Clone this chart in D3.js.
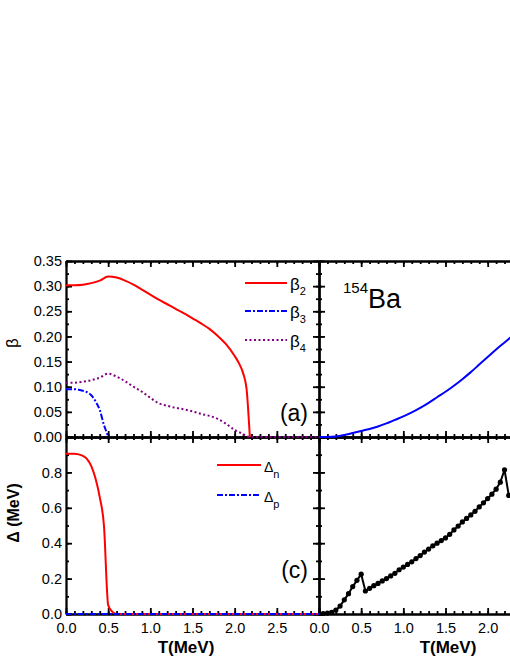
<!DOCTYPE html>
<html>
<head>
<meta charset="utf-8">
<script src="https://cdn.jsdelivr.net/npm/d3@7"></script>
<style>
body { margin: 0; background: #fff; }
text { font-family: Arial, "Liberation Sans", sans-serif; fill: #000; }
.axis path, .axis line { stroke: #000; stroke-width: 1.8; }
</style>
</head>
<body>
<svg id="chart" width="510" height="660"></svg>
<script>
// ---- data ----
var tBeta2 = [0, 0.1, 0.2, 0.3, 0.4, 0.5, 0.6, 0.7, 0.8, 0.9, 1.0, 1.1, 1.2, 1.3, 1.4, 1.5, 1.6, 1.7, 1.8, 1.9, 2.0, 2.05, 2.1, 2.14, 2.18];
var beta2  = [0.302, 0.302, 0.303, 0.306, 0.311, 0.319, 0.317, 0.311, 0.303, 0.293, 0.283, 0.273, 0.264, 0.255, 0.246, 0.236, 0.226, 0.215, 0.201, 0.184, 0.161, 0.147, 0.127, 0.097, 0.0];

var tBeta3 = [0, 0.1, 0.15, 0.2, 0.25, 0.3, 0.35, 0.4, 0.45, 0.48, 0.5];
var beta3  = [0.095, 0.095, 0.094, 0.092, 0.089, 0.083, 0.071, 0.054, 0.024, 0.01, 0.0];

var tBeta4 = [0, 0.1, 0.2, 0.3, 0.4, 0.5, 0.6, 0.7, 0.8, 0.9, 1.0, 1.1, 1.2, 1.3, 1.4, 1.5, 1.6, 1.7, 1.8, 1.9, 2.0, 2.1, 2.18, 3.0];
var beta4  = [0.108, 0.108, 0.110, 0.113, 0.118, 0.126, 0.120, 0.111, 0.100, 0.090, 0.078, 0.067, 0.062, 0.058, 0.055, 0.051, 0.046, 0.042, 0.036, 0.026, 0.014, 0.006, 0.0, 0.0];

var tDeltaN = [0, 0.1, 0.15, 0.2, 0.25, 0.3, 0.35, 0.4, 0.45, 0.5, 0.55, 0.6, 3.0];
var deltaN  = [0.905, 0.905, 0.902, 0.893, 0.875, 0.835, 0.765, 0.66, 0.50, 0.05, 0.012, 0.0, 0.0];

var tDeltaP = [0, 3.0];
var deltaP  = [0, 0];

// right panels
var tRightTop = [0, 0.1, 0.2, 0.3, 0.4, 0.5, 0.6, 0.7, 0.8, 0.9, 1.0, 1.1, 1.2, 1.3, 1.4, 1.5, 1.6, 1.7, 1.8, 1.9, 2.0, 2.1, 2.2, 2.3];
var rightTop  = [0, 0, 0.001, 0.004, 0.008, 0.012, 0.016, 0.021, 0.027, 0.034, 0.041, 0.049, 0.058, 0.068, 0.079, 0.090, 0.102, 0.115, 0.129, 0.144, 0.159, 0.174, 0.188, 0.202];

var tRightBot = [0, 0.05, 0.1, 0.15, 0.2, 0.25, 0.3, 0.35, 0.4, 0.45, 0.5, 0.55, 0.6, 0.65, 0.7, 0.75, 0.8, 0.85, 0.9, 0.95, 1.0, 1.05, 1.1, 1.15, 1.2, 1.25, 1.3, 1.35, 1.4, 1.45, 1.5, 1.55, 1.6, 1.65, 1.7, 1.75, 1.8, 1.85, 1.9, 1.95, 2.0, 2.05, 2.1, 2.15, 2.2, 2.25];
var rightBot  = [0, 0.002, 0.005, 0.01, 0.022, 0.045, 0.08, 0.115, 0.155, 0.19, 0.225, 0.13, 0.145, 0.16, 0.173, 0.187, 0.20, 0.215, 0.23, 0.25, 0.265, 0.28, 0.295, 0.313, 0.33, 0.35, 0.367, 0.385, 0.40, 0.415, 0.43, 0.45, 0.475, 0.497, 0.52, 0.54, 0.56, 0.58, 0.605, 0.628, 0.652, 0.677, 0.705, 0.745, 0.815, 0.67];

// ticks
var xMajor = [0, 0.5, 1.0, 1.5, 2.0, 2.5, 3.0];
var yTopMajor = [0, 0.05, 0.10, 0.15, 0.20, 0.25, 0.30, 0.35];
var yBotMajor = [0, 0.2, 0.4, 0.6, 0.8, 1.0];

var svg = d3.select("#chart");

var xL = d3.scaleLinear().domain([0, 3]).range([66, 319]),
    xR = d3.scaleLinear().domain([0, 3]).range([319, 572]),
    yTop = d3.scaleLinear().domain([0, 0.35]).range([437, 261]),
    yBot = d3.scaleLinear().domain([0, 1]).range([614, 437]);

function zip(t, v) {
    return t.map(function(d, i) { return { t: d, v: v[i] }; });
}

// frame with inward ticks on all four sides
function frame(x, y, yMajor, yMinorStep, xFmt, yFmt) {
    var x0 = x.range()[0], x1 = x.range()[1], yb = y.range()[0], yt = y.range()[1];
    var xMinor = d3.range(0, 3.001, 0.1);
    var yMinor = d3.range(0, y.domain()[1] + 1e-6, yMinorStep);

    var g = svg.append("g").attr("class", "axis");
    // bottom
    g.append("g").attr("transform", "translate(0," + yb + ")")
        .call(d3.axisBottom(x).tickValues(xMinor).tickSizeInner(-3).tickSizeOuter(0).tickFormat(""));
    g.append("g").attr("transform", "translate(0," + yb + ")")
        .call(d3.axisBottom(x).tickValues(xMajor).tickSizeInner(-6).tickSizeOuter(0).tickPadding(9)
            .tickFormat(xFmt || function() { return ""; }));
    // top
    g.append("g").attr("transform", "translate(0," + yt + ")")
        .call(d3.axisTop(x).tickValues(xMinor).tickSizeInner(-3).tickSizeOuter(0).tickFormat(""));
    g.append("g").attr("transform", "translate(0," + yt + ")")
        .call(d3.axisTop(x).tickValues(xMajor).tickSizeInner(-6).tickSizeOuter(0).tickFormat(""));
    // left
    g.append("g").attr("transform", "translate(" + x0 + ",0)")
        .call(d3.axisLeft(y).tickValues(yMinor).tickSizeInner(-3).tickSizeOuter(0).tickFormat(""));
    g.append("g").attr("transform", "translate(" + x0 + ",0)")
        .call(d3.axisLeft(y).tickValues(yMajor).tickSizeInner(-6).tickSizeOuter(0).tickPadding(4)
            .tickFormat(yFmt || function() { return ""; }));
    // right
    g.append("g").attr("transform", "translate(" + x1 + ",0)")
        .call(d3.axisRight(y).tickValues(yMinor).tickSizeInner(-3).tickSizeOuter(0).tickFormat(""));
    g.append("g").attr("transform", "translate(" + x1 + ",0)")
        .call(d3.axisRight(y).tickValues(yMajor).tickSizeInner(-6).tickSizeOuter(0).tickFormat(""));

    g.selectAll("text").attr("font-size", 14.5).attr("font-family", "Arial, 'Liberation Sans', sans-serif");
}

// axes / frames first, curves drawn over them
frame(xL, yTop, yTopMajor, 0.025, null, function(d) { return d3.format(".2f")(d); });
frame(xL, yBot, yBotMajor, 0.1, function(d) { return d === 3 ? "" : d3.format(".1f")(d); },
    function(d) { return d === 1 ? "" : d3.format(".1f")(d); });
frame(xR, yTop, yTopMajor, 0.025, null, null);
frame(xR, yBot, yBotMajor, 0.1, function(d) { return d > 2 ? "" : d3.format(".1f")(d); }, null);

var clipId = 0;
function panel(x, y) {
    clipId++;
    var id = "clip" + clipId;
    svg.append("clipPath").attr("id", id)
        .append("rect")
        .attr("x", x.range()[0]).attr("y", y.range()[1] - 2)
        .attr("width", x.range()[1] - x.range()[0])
        .attr("height", y.range()[0] - y.range()[1] + 4);
    return svg.append("g").attr("clip-path", "url(#" + id + ")");
}

function drawLine(g, x, y, t, v, color, dash, curve) {
    var line = d3.line()
        .x(function(d) { return x(d.t); })
        .y(function(d) { return y(d.v); })
        .curve(curve || d3.curveMonotoneX);
    g.append("path")
        .datum(zip(t, v))
        .attr("fill", "none")
        .attr("stroke", color)
        .attr("stroke-width", 2)
        .attr("stroke-dasharray", dash || null)
        .attr("d", line);
}

// ---- top left: beta ----
var gTL = panel(xL, yTop);
drawLine(gTL, xL, yTop, tBeta4, beta4, "#800080", "2,2.5");
drawLine(gTL, xL, yTop, tBeta3, beta3, "#0000ff", "6,2,2,2");
drawLine(gTL, xL, yTop, tBeta2, beta2, "#ff0000");

// ---- bottom left: gaps ----
var gBL = panel(xL, yBot);
drawLine(gBL, xL, yBot, tDeltaN, deltaN, "#ff0000");
drawLine(gBL, xL, yBot, tDeltaP, deltaP, "#0000ff", "6,2,2,2");

// ---- top right ----
var gTR = panel(xR, yTop);
drawLine(gTR, xR, yTop, tRightTop, rightTop, "#0000ff");

// ---- bottom right ----
var gBR = panel(xR, yBot);
drawLine(gBR, xR, yBot, tRightBot, rightBot, "#000", null, d3.curveLinear);
gBR.selectAll("circle")
    .data(zip(tRightBot, rightBot))
    .enter().append("circle")
    .attr("cx", function(d) { return xR(d.t); })
    .attr("cy", function(d) { return yBot(d.v); })
    .attr("r", 2.6)
    .attr("fill", "#000");

// axis titles
svg.append("text")
    .attr("transform", "translate(18,343) rotate(-90)")
    .attr("text-anchor", "middle")
    .attr("font-size", 17)
    .text("β");

svg.append("text")
    .attr("transform", "translate(19,513) rotate(-90)")
    .attr("text-anchor", "middle")
    .attr("font-size", 16)
    .attr("font-weight", "bold")
    .text("Δ (MeV)");

svg.append("text")
    .attr("x", 186).attr("y", 653)
    .attr("text-anchor", "middle")
    .attr("font-size", 17)
    .attr("font-weight", "bold")
    .text("T(MeV)");

svg.append("text")
    .attr("x", 448).attr("y", 653)
    .attr("text-anchor", "middle")
    .attr("font-size", 17)
    .attr("font-weight", "bold")
    .text("T(MeV)");

// panel labels
svg.append("text").attr("x", 308).attr("y", 421).attr("text-anchor", "end")
    .attr("font-size", 23).text("(a)");
svg.append("text").attr("x", 308).attr("y", 578).attr("text-anchor", "end")
    .attr("font-size", 23).text("(c)");

var nuc = svg.append("text").attr("x", 343).attr("y", 308).attr("font-size", 27);
nuc.append("tspan").attr("font-size", 15).attr("dy", -15).text("154");
nuc.append("tspan").attr("dy", 15).text("Ba");

// legends
var legTop = [
    { name: "2", y: 283, color: "#ff0000", dash: null },
    { name: "3", y: 311, color: "#0000ff", dash: "6,2,2,2" },
    { name: "4", y: 340, color: "#800080", dash: "2,2.5" }
];
legTop.forEach(function(d) {
    svg.append("line").attr("x1", 245).attr("x2", 287).attr("y1", d.y).attr("y2", d.y)
        .attr("stroke", d.color).attr("stroke-width", 2).attr("stroke-dasharray", d.dash);
    var t = svg.append("text").attr("x", 290).attr("y", d.y + 7).attr("font-size", 17);
    t.append("tspan").text("β");
    t.append("tspan").attr("font-size", 11).attr("dy", 5).text(d.name);
});

var legBot = [
    { name: "n", y: 465, color: "#ff0000", dash: null },
    { name: "p", y: 495, color: "#0000ff", dash: "6,2,2,2" }
];
legBot.forEach(function(d) {
    svg.append("line").attr("x1", 217).attr("x2", 261).attr("y1", d.y).attr("y2", d.y)
        .attr("stroke", d.color).attr("stroke-width", 2).attr("stroke-dasharray", d.dash);
    var t = svg.append("text").attr("x", 264).attr("y", d.y + 7).attr("font-size", 14);
    t.append("tspan").text("Δ");
    t.append("tspan").attr("font-size", 11).attr("dy", 6).text(d.name);
});
</script>
</body>
</html>
